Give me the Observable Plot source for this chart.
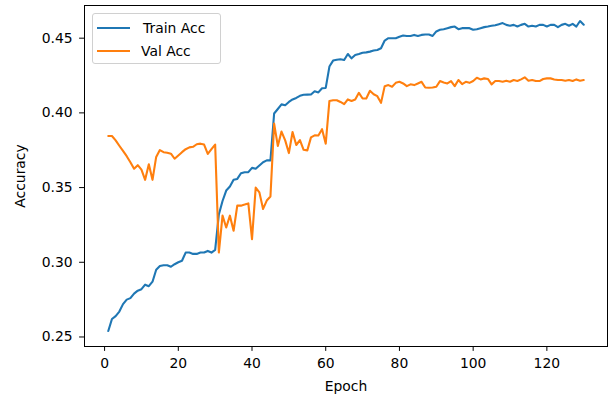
<!DOCTYPE html>
<html>
<head>
<meta charset="utf-8">
<script src="https://cdn.jsdelivr.net/npm/d3@7"></script>
<script src="https://cdn.jsdelivr.net/npm/@observablehq/plot@0.6"></script>
<style>
  html, body { margin: 0; padding: 0; background: white; }
  #wrap { position: relative; width: 611px; height: 398px; font-family: "DejaVu Sans", sans-serif; }
  #legend {
    position: absolute; left: 92px; top: 13px; width: 129px; height: 51px;
    border: 1px solid #d0d0d0; border-radius: 3px; background: rgba(255,255,255,0.8);
    box-sizing: border-box; font-size: 13.9px; color: #000;
  }
  .item { position: absolute; left: 0; height: 16px; display: flex; align-items: center; }
  .swatch { position: absolute; left: 4px; width: 33px; height: 2.1px; }
  .lab { position: absolute; white-space: nowrap; line-height: 16px; }
</style>
</head>
<body>
<div id="wrap"></div>
<script>
const seriesNames = ["Train Acc", "Val Acc"];
const seriesColors = ["#1f77b4", "#ff7f0e"];
const xTicks = [0, 20, 40, 60, 80, 100, 120];
const yTicks = [0.25, 0.30, 0.35, 0.40, 0.45];

const trainAcc = [
  0.254, 0.262, 0.264, 0.267, 0.272, 0.275, 0.276, 0.279, 0.281, 0.282,
  0.285, 0.284, 0.287, 0.295, 0.2975, 0.298, 0.298, 0.297, 0.2987, 0.300,
  0.301, 0.3065, 0.3065, 0.3056, 0.3056, 0.3065, 0.3065, 0.3076, 0.3065, 0.3083,
  0.332, 0.341, 0.348, 0.3507, 0.3552, 0.3558, 0.3596, 0.3603, 0.3603, 0.3632,
  0.3626, 0.3648, 0.367, 0.3682, 0.3682, 0.3996, 0.4026, 0.4057, 0.4051, 0.4073,
  0.409, 0.4100, 0.4114, 0.4121, 0.4122, 0.4123, 0.4145, 0.4137, 0.4165, 0.4167,
  0.431, 0.4350, 0.4356, 0.4359, 0.4354, 0.4394, 0.4365, 0.4388, 0.4394, 0.4403,
  0.4405, 0.441, 0.4417, 0.4421, 0.4433, 0.4484, 0.450, 0.450, 0.450, 0.451,
  0.4518, 0.4515, 0.4515, 0.4522, 0.4515, 0.4522, 0.4525, 0.4525, 0.4515, 0.4545,
  0.4556, 0.456, 0.4567, 0.4574, 0.4578, 0.456, 0.4567, 0.4567, 0.4567, 0.4556,
  0.456, 0.4567, 0.4574, 0.4578, 0.4583, 0.4587, 0.4594, 0.4601, 0.4589, 0.4583,
  0.4589, 0.4578, 0.4589, 0.4596, 0.4578, 0.4583, 0.4578, 0.4589, 0.4589, 0.4578,
  0.4589, 0.4589, 0.4574, 0.4589, 0.4596, 0.4583, 0.4596, 0.4578, 0.4615, 0.4590
];

const valAcc = [
  0.3845, 0.3845, 0.3816, 0.378, 0.3745, 0.371, 0.367, 0.3626, 0.365, 0.362,
  0.3552, 0.3656, 0.3552, 0.3705, 0.3751, 0.3737, 0.3733, 0.3727, 0.3693, 0.3715,
  0.3737, 0.3757, 0.3769, 0.3773, 0.379, 0.3794, 0.3788, 0.3725, 0.3757, 0.3788,
  0.3065, 0.3312, 0.3233, 0.3312, 0.3211, 0.3379, 0.3379, 0.3386, 0.3394, 0.3155,
  0.350, 0.3468, 0.3357, 0.3413, 0.344, 0.3928, 0.3779, 0.3875, 0.3816, 0.3731,
  0.3872, 0.3785, 0.3818, 0.3753, 0.3749, 0.3836, 0.385, 0.3849, 0.3891, 0.3794,
  0.408, 0.4085, 0.4085, 0.4073, 0.4058, 0.409, 0.408, 0.409, 0.4134, 0.4096,
  0.4096, 0.4148, 0.4125, 0.4112, 0.4067, 0.4179, 0.4186, 0.4175, 0.4201, 0.4208,
  0.4197, 0.4179, 0.4191, 0.4186, 0.4197, 0.4208, 0.417, 0.4168, 0.417, 0.4175,
  0.4213, 0.4204, 0.4197, 0.4213, 0.4179, 0.422, 0.4193, 0.4208, 0.4201, 0.4213,
  0.4235, 0.4224, 0.4231, 0.4227, 0.4191, 0.4213, 0.4213, 0.4208, 0.4215, 0.4208,
  0.422, 0.4213, 0.4224, 0.4238, 0.4215, 0.422, 0.4213, 0.4213, 0.4227, 0.4231,
  0.4231, 0.4224, 0.422, 0.422, 0.4215, 0.422, 0.4213, 0.4224, 0.4215, 0.422
];

const epochs = trainAcc.map((_, i) => i + 1);
const rows = [];
epochs.forEach((e, i) => {
  rows.push({epoch: e, acc: trainAcc[i], series: seriesNames[0]});
});
epochs.forEach((e, i) => {
  rows.push({epoch: e, acc: valAcc[i], series: seriesNames[1]});
});

// matplotlib-like 5% margins around the data range
const xMin = d3.min(epochs), xMax = d3.max(epochs);
const allAcc = trainAcc.concat(valAcc);
const yMin = d3.min(allAcc), yMax = d3.max(allAcc);
const xPad = (xMax - xMin) * 0.05, yPad = (yMax - yMin) * 0.05;

const chart = Plot.plot({
  width: 611,
  height: 398,
  marginLeft: 84,
  marginRight: 4,
  marginTop: 5,
  marginBottom: 52,
  style: {fontFamily: "DejaVu Sans, sans-serif", fontSize: "13.9px", color: "#000", background: "white"},
  x: {domain: [xMin - xPad, xMax + xPad]},
  y: {domain: [yMin - yPad, yMax + yPad]},
  color: {domain: seriesNames, range: seriesColors},
  marks: [
    Plot.line(rows, {x: "epoch", y: "acc", z: "series", stroke: "series", strokeWidth: 2.1}),
    Plot.frame({stroke: "#000", strokeWidth: 1}),
    Plot.axisX({ticks: xTicks, tickSize: 4.9, tickPadding: 7, tickFormat: d3.format("d"),
      label: "Epoch", labelAnchor: "center", labelOffset: 44, labelArrow: "none"}),
    Plot.axisY({ticks: yTicks, tickSize: 4.9, tickPadding: 7, tickFormat: d3.format(".2f"),
      label: "Accuracy", labelAnchor: "center", labelOffset: 69, labelArrow: "none"})
  ]
});

const wrap = document.getElementById("wrap");
wrap.appendChild(chart);

// legend (inside axes, upper left)
const legend = document.createElement("div");
legend.id = "legend";
const itemTops = [6, 29];
const labLefts = [50, 48];
seriesNames.forEach((name, i) => {
  const sw = document.createElement("div");
  sw.className = "swatch";
  sw.style.background = seriesColors[i];
  sw.style.top = (itemTops[i] + 7) + "px";
  legend.appendChild(sw);
  const lab = document.createElement("div");
  lab.className = "lab";
  lab.textContent = name;
  lab.style.left = labLefts[i] + "px";
  lab.style.top = itemTops[i] + "px";
  legend.appendChild(lab);
});
wrap.appendChild(legend);
</script>
</body>
</html>
